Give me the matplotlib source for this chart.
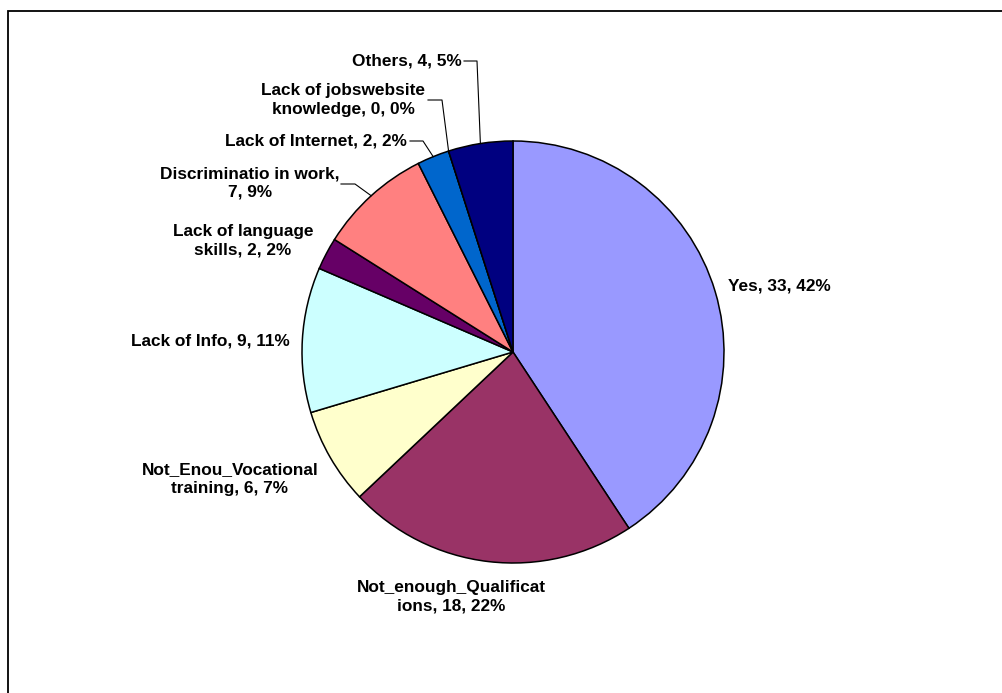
import numpy as np
import matplotlib.pyplot as plt
from matplotlib.patches import Rectangle

labels = ['Yes', 'Not_enough_Qualificat\nions', 'Not_Enou_Vocational\ntraining',
          'Lack of Info', 'Lack of language\nskills', 'Discriminatio in work,\n',
          'Lack of Internet', 'Lack of jobswebsite\nknowledge', 'Others']
values = [33, 18, 6, 9, 2, 7, 2, 0, 4]
percents = [42, 22, 7, 11, 2, 9, 2, 0, 5]
colors = ['#9999FF', '#993366', '#FFFFCC', '#CCFFFF', '#660066',
          '#FF8080', '#0066CC', '#0066CC', '#000080']

W, H = 1003, 693
fig = plt.figure(figsize=(W / 100, H / 100), dpi=100)
ax = fig.add_axes([0, 0, 1, 1])

cx, cy, r = 513, H - 352, 211
wedges, _ = ax.pie(values, colors=colors, startangle=90, counterclock=False,
                   center=(cx, cy), radius=r, frame=True,
                   wedgeprops=dict(edgecolor='black', linewidth=1.1))
ax.set_xlim(0, W)
ax.set_ylim(0, H)
ax.axis('off')

# chart area border
ax.add_patch(Rectangle((8, -10), W, H - 11 + 10, fill=False, edgecolor='black',
                       linewidth=1.3, clip_on=False))

# label text centres, in pixel coordinates from the top-left
label_pos = [(779, 286), (451, 597), (230, 479), (210, 341), (243, 241),
             (250, 183), (316, 141), (343, 100), (407, 61)]


def label_text(i):
    name = labels[i]
    if name.endswith(',\n'):
        return f'{name}{values[i]}, {percents[i]}%'
    return f'{name}, {values[i]}, {percents[i]}%'


for i, (x, y) in enumerate(label_pos):
    ax.text(x, H - y, label_text(i), ha='center', va='center', fontsize=12.4,
            fontweight='bold', family=['Liberation Sans', 'DejaVu Sans'],
            linespacing=1.3, multialignment='center')

# leader lines: (wedge index, stub start x, stub end x, y)
leaders = [(8, 464, 477, 61), (7, 428, 442, 100), (6, 410, 423, 141),
           (5, 341, 355, 184)]
for i, x0, x1, y in leaders:
    w = wedges[i]
    ang = np.deg2rad((w.theta1 + w.theta2) / 2)
    px, py = cx + r * np.cos(ang), cy + r * np.sin(ang)
    ax.plot([x0, x1, px], [H - y, H - y, py], color='black', linewidth=0.8)

fig.savefig('out.png', dpi=100)
